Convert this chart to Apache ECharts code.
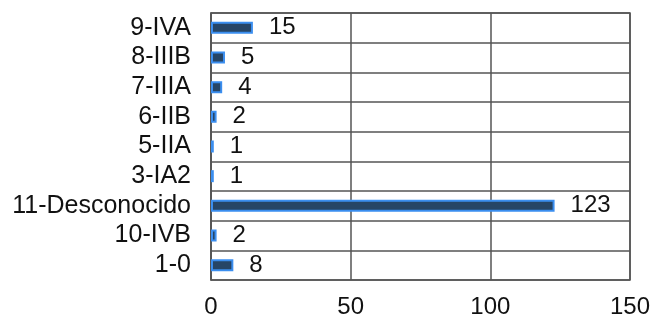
<!DOCTYPE html>
<html lang="es">
  <head>
    <meta charset="utf-8" />
    <script type="text/javascript" src="https://cdn.jsdelivr.net/npm/echarts@6/dist/echarts.min.js"></script>
    <title>Estadios</title>
    <style>
      html, body { margin: 0; padding: 0; background: #fff; }
      #chart { width: 654px; height: 320px; }
    </style>
  </head>
  <body>
    <div id="chart"></div>
    <script>
      // categorias de abajo hacia arriba
      var categories = ['1-0', '10-IVB', '11-Desconocido', '3-IA2', '5-IIA', '6-IIB', '7-IIIA', '8-IIIB', '9-IVA']
      var values = [8, 2, 123, 1, 1, 2, 4, 5, 15]
      var xTicks = [0, 50, 100, 150]

      var chart = echarts.init(document.getElementById('chart'), null, { renderer: 'canvas' })
      var font = 'Liberation Sans, Arial, sans-serif'
      chart.setOption({
        animation: false,
        grid: { left: 211, right: 24, top: 13, bottom: 40, containLabel: false },
        xAxis: {
          type: 'value',
          min: xTicks[0],
          max: xTicks[xTicks.length - 1],
          interval: 50,
          axisLine: { show: false },
          axisTick: { show: false },
          splitLine: { show: true, lineStyle: { color: '#555', width: 1.5 } },
          axisLabel: { color: '#111', fontSize: 24, fontFamily: font, margin: 15 }
        },
        yAxis: {
          type: 'category',
          data: categories,
          axisLine: { show: true, lineStyle: { color: '#555', width: 1.5 } },
          axisTick: { show: false },
          splitLine: { show: true, interval: 0, lineStyle: { color: '#555', width: 1.5 } },
          axisLabel: { interval: 0, hideOverlap: false, color: '#111', fontSize: 25, fontFamily: font, margin: 20 }
        },
        series: [{
          type: 'bar',
          data: values,
          barWidth: 12,
          itemStyle: { color: '#264566', borderColor: '#3b8eef', borderWidth: 2 },
          label: {
            show: true,
            position: 'right',
            distance: 16,
            color: '#111',
            fontSize: 24,
            fontFamily: font
          },
          labelLayout: { hideOverlap: false }
        }]
      })
      // borde superior y derecho del area
      var g = chart.getModel().getComponent('grid').coordinateSystem.getRect()
      chart.setOption({
        graphic: [{
          type: 'rect',
          shape: { x: g.x, y: g.y, width: g.width, height: g.height },
          style: { fill: 'none', stroke: '#555', lineWidth: 1.5 },
          silent: true
        }]
      })
    </script>
  </body>
</html>
